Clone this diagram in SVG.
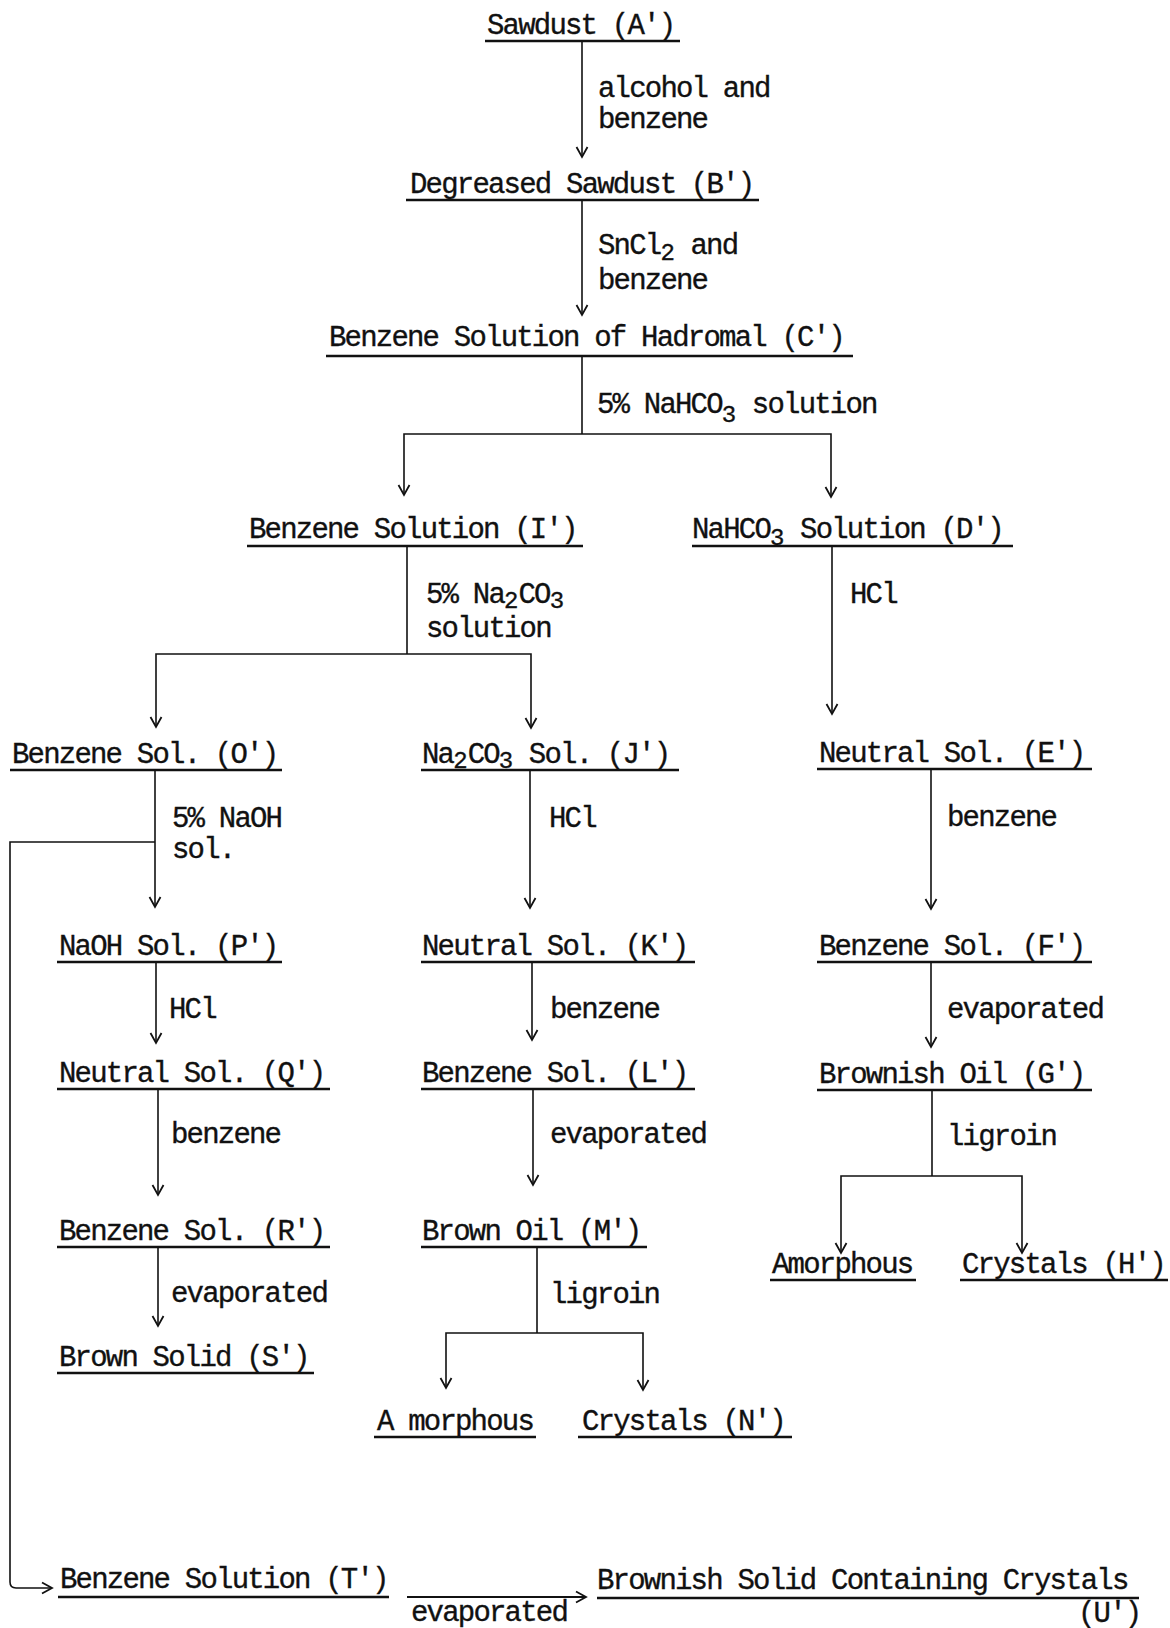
<svg xmlns="http://www.w3.org/2000/svg" width="1170" height="1628" viewBox="0 0 1170 1628">
<style>
.t{font-family:"Liberation Mono","Courier New",monospace;font-size:29px;letter-spacing:-1.8px;fill:#111;stroke:#111;stroke-width:0.35}
.s{font-size:24px;letter-spacing:0}
.u{stroke:#111;stroke-width:2.6;fill:none}
.c{stroke:#111;stroke-width:1.6;fill:none}
.a{marker-end:url(#arr)}
</style>
<defs>
<marker id="arr" viewBox="-11 -7 13 14" markerWidth="13" markerHeight="14" refX="0" refY="0" orient="auto" markerUnits="userSpaceOnUse">
<path d="M-10,-5.5 L0,0 L-10,5.5" fill="none" stroke="#111" stroke-width="1.8"/>
</marker>
</defs>
<rect width="1170" height="1628" fill="#fff"/>

<g id="connectors">
<path class="c a" d="M582,41 V157"/>
<path class="c a" d="M582,200 V315"/>
<path class="c" d="M582,356 V434"/>
<path class="c a" d="M582,434 H404 V495"/>
<path class="c a" d="M582,434 H831 V497"/>
<path class="c" d="M407,546 V654"/>
<path class="c a" d="M407,654 H156 V727"/>
<path class="c a" d="M407,654 H531 V728"/>
<path class="c a" d="M832,546 V714"/>
<path class="c a" d="M155,770 V907"/>
<path class="c a" d="M155,842 H10 V1582 Q10,1588 16,1588 H52"/>
<path class="c a" d="M530,770 V908"/>
<path class="c a" d="M931,769 V909"/>
<path class="c a" d="M156,962 V1043"/>
<path class="c a" d="M532,962 V1040"/>
<path class="c a" d="M931,962 V1047"/>
<path class="c a" d="M158,1089 V1195"/>
<path class="c a" d="M533,1089 V1185"/>
<path class="c" d="M932,1090 V1176"/>
<path class="c a" d="M932,1176 H841 V1253"/>
<path class="c a" d="M932,1176 H1022 V1253"/>
<path class="c a" d="M158,1247 V1326"/>
<path class="c" d="M537,1247 V1333"/>
<path class="c a" d="M537,1333 H446 V1388"/>
<path class="c a" d="M537,1333 H643 V1390"/>
<path class="c a" d="M407,1597 H586" style="stroke-width:2.2"/>

<text class="t" x="598" y="97">alcohol and</text>
<text class="t" x="598" y="128">benzene</text>
<text class="t" x="598" y="254">SnCl<tspan class="s" dy="6">2</tspan><tspan dy="-6"> and</tspan></text>
<text class="t" x="598" y="289">benzene</text>
<text class="t" x="597" y="413">5% NaHCO<tspan class="s" dy="9">3</tspan><tspan dy="-9"> solution</tspan></text>
<text class="t" x="426" y="603">5% Na<tspan class="s" dy="5">2</tspan><tspan dy="-5">CO</tspan><tspan class="s" dy="5">3</tspan></text>
<text class="t" x="426" y="637">solution</text>
<text class="t" x="850" y="603">HCl</text>
<text class="t" x="172" y="827">5% NaOH</text>
<text class="t" x="172" y="858">sol.</text>
<text class="t" x="549" y="827">HCl</text>
<text class="t" x="947" y="826">benzene</text>
<text class="t" x="169" y="1018">HCl</text>
<text class="t" x="550" y="1018">benzene</text>
<text class="t" x="947" y="1018">evaporated</text>
<text class="t" x="171" y="1143">benzene</text>
<text class="t" x="550" y="1143">evaporated</text>
<text class="t" x="947" y="1145">ligroin</text>
<text class="t" x="171" y="1302">evaporated</text>
<text class="t" x="550" y="1303">ligroin</text>
<text class="t" x="411" y="1621">evaporated</text>
</g>

<g id="nodeA"><text class="t" x="487" y="34">Sawdust (A')</text><line class="u" x1="485" y1="41" x2="680" y2="41"/></g>
<g id="nodeB"><text class="t" x="410" y="193">Degreased Sawdust (B')</text><line class="u" x1="406" y1="200" x2="759" y2="200"/></g>
<g id="nodeC"><text class="t" x="329" y="346">Benzene Solution of Hadromal (C')</text><line class="u" x1="326" y1="356" x2="853" y2="356"/></g>
<g id="nodeI"><text class="t" x="249" y="538">Benzene Solution (I')</text><line class="u" x1="247" y1="546" x2="583" y2="546"/></g>
<g id="nodeD"><text class="t" x="692" y="538">NaHCO<tspan class="s" dy="7">3</tspan><tspan dy="-7"> Solution (D')</tspan></text><line class="u" x1="692" y1="546" x2="1013" y2="546"/></g>
<g id="nodeO"><text class="t" x="12" y="763">Benzene Sol. (O')</text><line class="u" x1="10" y1="770" x2="282" y2="770"/></g>
<g id="nodeJ"><text class="t" x="422" y="763">Na<tspan class="s" dy="5">2</tspan><tspan dy="-5">CO</tspan><tspan class="s" dy="5">3</tspan><tspan dy="-5"> Sol. (J')</tspan></text><line class="u" x1="421" y1="770" x2="679" y2="770"/></g>
<g id="nodeE"><text class="t" x="819" y="762">Neutral Sol. (E')</text><line class="u" x1="817" y1="769" x2="1092" y2="769"/></g>
<g id="nodeP"><text class="t" x="59" y="955">NaOH Sol. (P')</text><line class="u" x1="57" y1="962" x2="282" y2="962"/></g>
<g id="nodeK"><text class="t" x="422" y="955">Neutral Sol. (K')</text><line class="u" x1="421" y1="962" x2="695" y2="962"/></g>
<g id="nodeF"><text class="t" x="819" y="955">Benzene Sol. (F')</text><line class="u" x1="817" y1="962" x2="1092" y2="962"/></g>
<g id="nodeQ"><text class="t" x="59" y="1082">Neutral Sol. (Q')</text><line class="u" x1="57" y1="1089" x2="330" y2="1089"/></g>
<g id="nodeL"><text class="t" x="422" y="1082">Benzene Sol. (L')</text><line class="u" x1="421" y1="1089" x2="695" y2="1089"/></g>
<g id="nodeG"><text class="t" x="819" y="1083">Brownish Oil (G')</text><line class="u" x1="817" y1="1090" x2="1092" y2="1090"/></g>
<g id="nodeR"><text class="t" x="59" y="1240">Benzene Sol. (R')</text><line class="u" x1="57" y1="1247" x2="330" y2="1247"/></g>
<g id="nodeM"><text class="t" x="422" y="1240">Brown Oil (M')</text><line class="u" x1="421" y1="1247" x2="647" y2="1247"/></g>
<g id="nodeS"><text class="t" x="59" y="1366">Brown Solid (S')</text><line class="u" x1="57" y1="1373" x2="314" y2="1373"/></g>
<g id="nodeAmorphousG"><text class="t" x="772" y="1273">Amorphous</text><line class="u" x1="770" y1="1280" x2="916" y2="1280"/></g>
<g id="nodeH"><text class="t" x="962" y="1273">Crystals (H')</text><line class="u" x1="960" y1="1280" x2="1168" y2="1280"/></g>
<g id="nodeAmorphousM"><text class="t" x="377" y="1430">A morphous</text><line class="u" x1="374" y1="1437" x2="536" y2="1437"/></g>
<g id="nodeN"><text class="t" x="582" y="1430">Crystals (N')</text><line class="u" x1="578" y1="1437" x2="792" y2="1437"/></g>
<g id="nodeT"><text class="t" x="60" y="1588">Benzene Solution (T')</text><line class="u" x1="58" y1="1597" x2="389" y2="1597"/></g>
<g id="nodeU"><text class="t" x="597" y="1589">Brownish Solid Containing Crystals</text><text class="t" x="1078" y="1622">(U')</text><line class="u" x1="597" y1="1598" x2="1139" y2="1598"/></g>
</svg>
